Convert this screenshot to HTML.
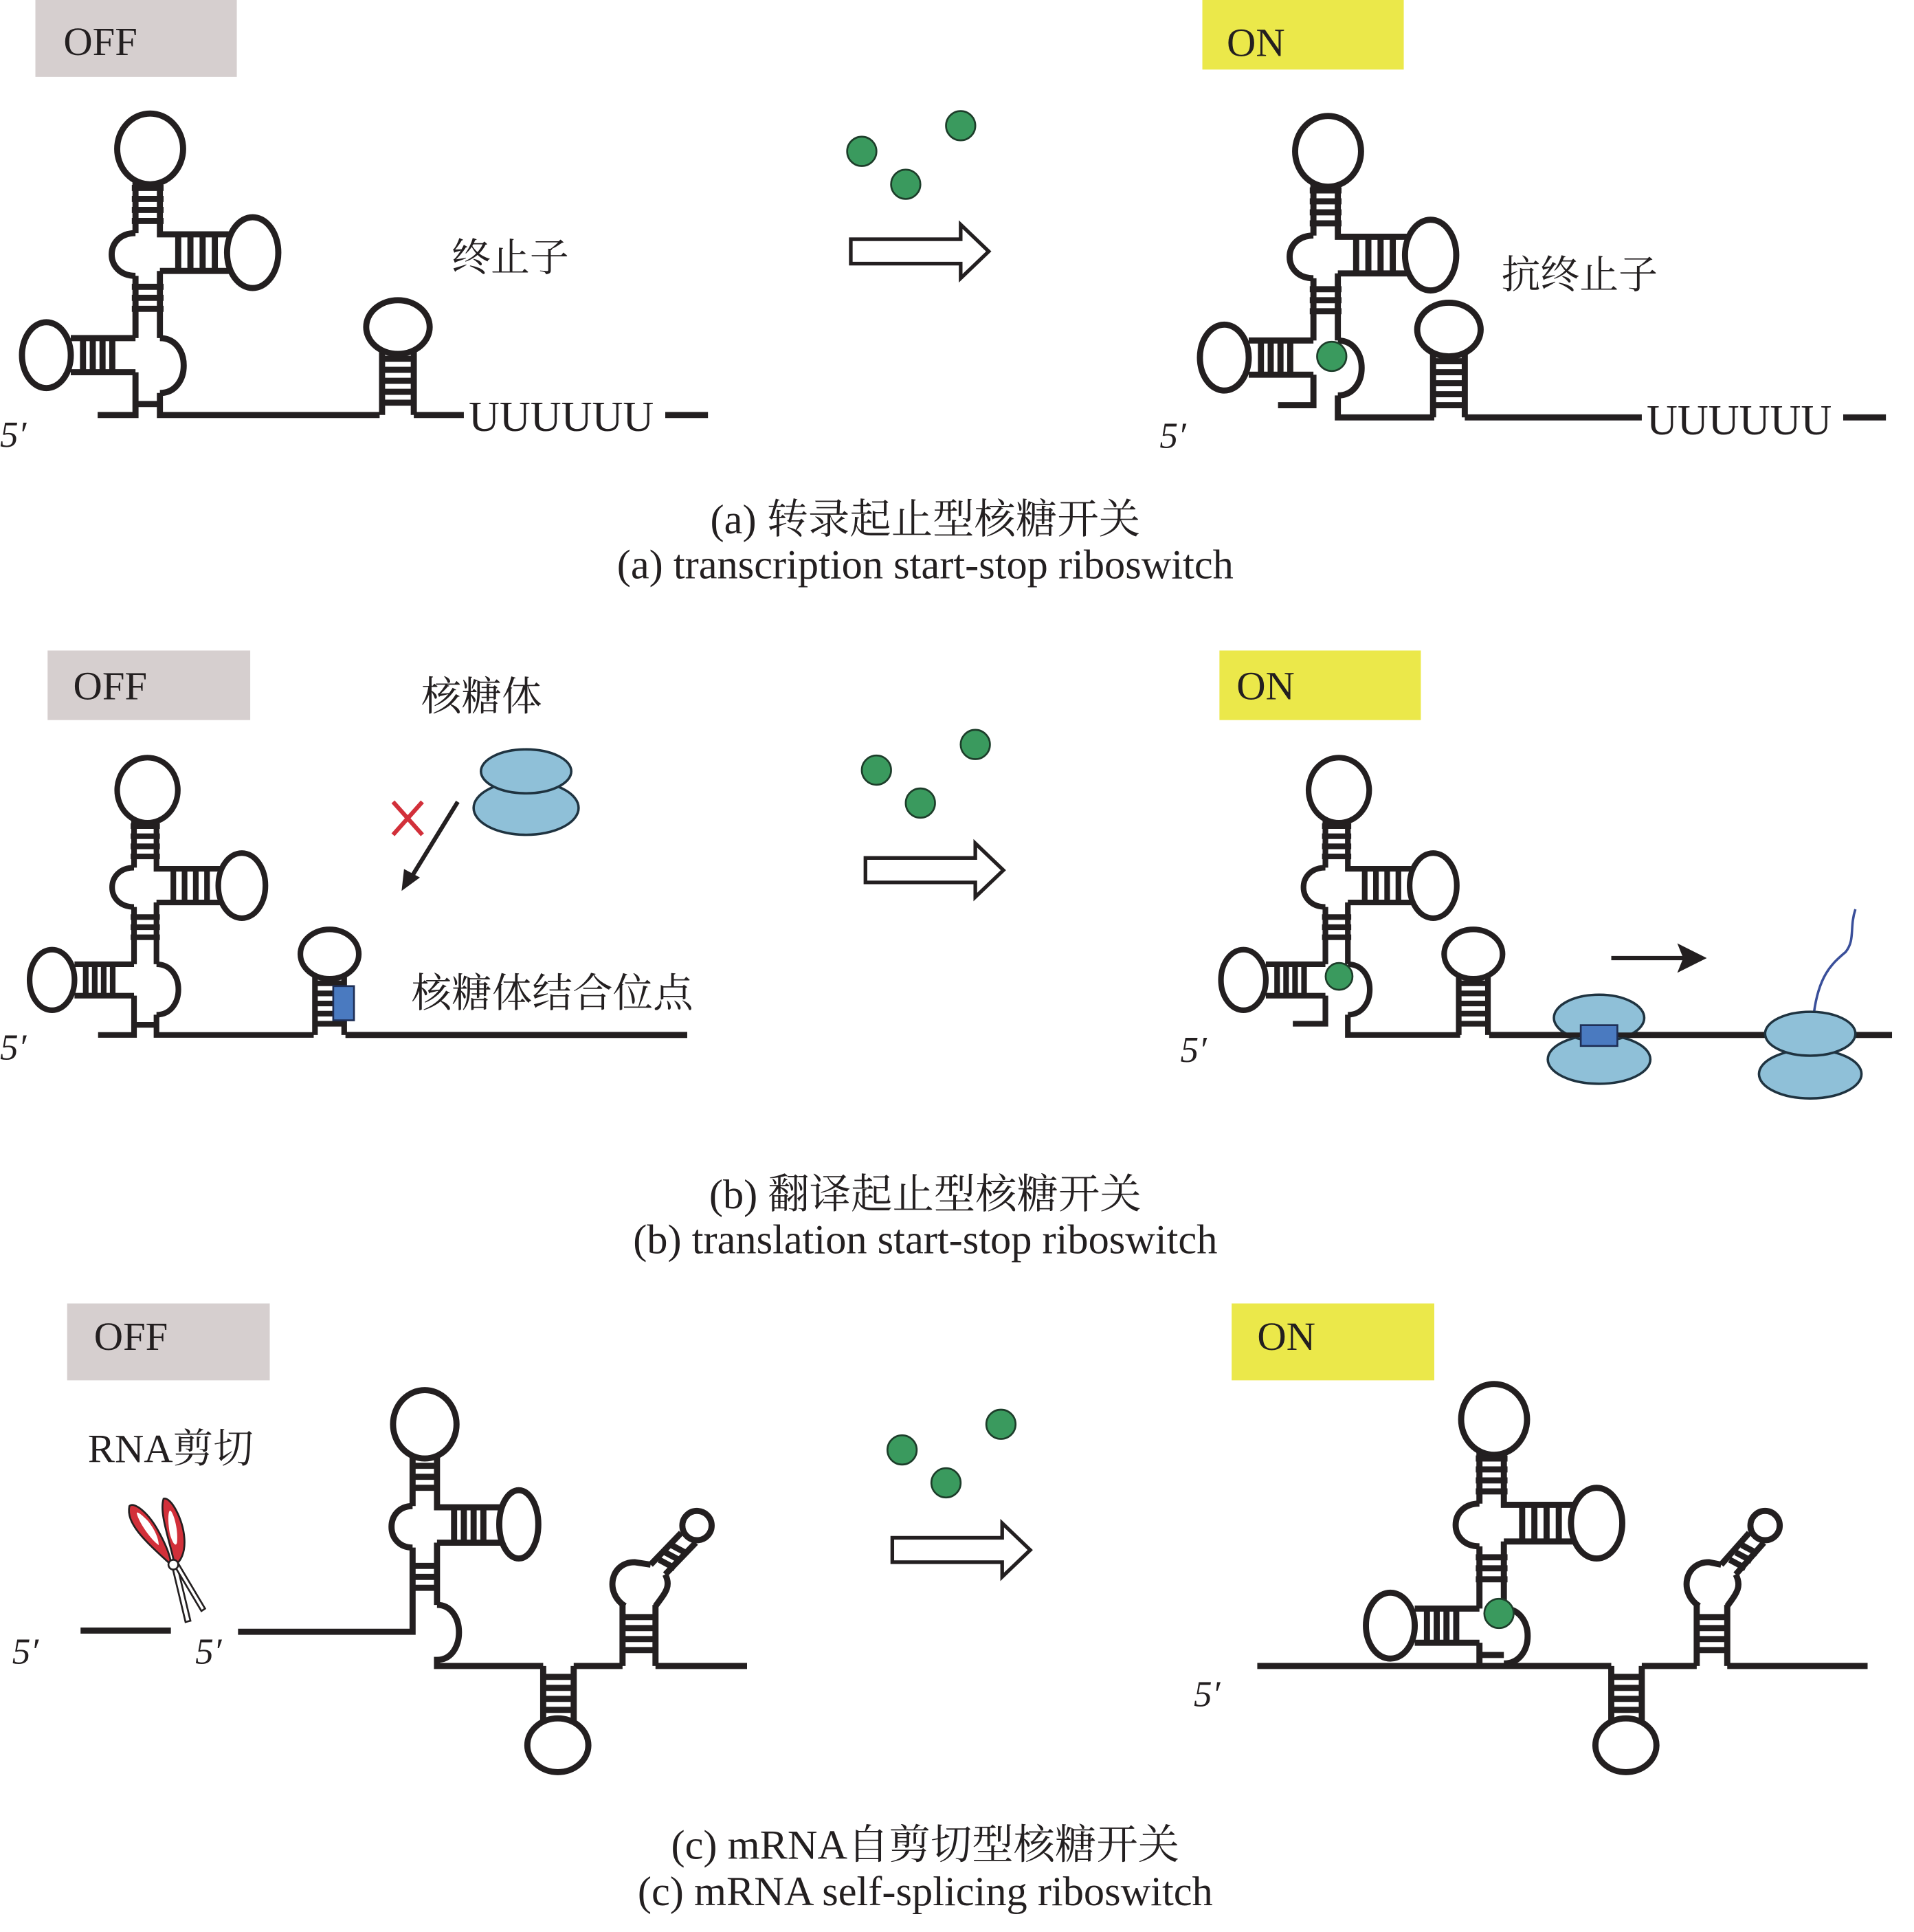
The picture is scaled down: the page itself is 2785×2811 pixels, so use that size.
<!DOCTYPE html>
<html><head><meta charset="utf-8">
<style>
html,body{margin:0;padding:0;background:#fff;}
svg{display:block;}
text{font-family:"Liberation Serif","Noto Serif CJK SC","Noto Sans CJK SC",serif;fill:#231f20;}
</style></head>
<body>
<svg width="2785" height="2811" viewBox="0 0 1568 1583" preserveAspectRatio="none" xmlns="http://www.w3.org/2000/svg">
<defs>
<g id="clover" fill="none" stroke="#231f20" stroke-width="5">
  <ellipse cx="2" cy="-218" rx="27" ry="29"/>
  <path d="M-10,-192 V-149 M10,-192 V-148 H67 M10,-118 H67 M-13,-186 H13 M-13,-177 H13 M-13,-168 H13 M-13,-159 H13"/>
  <path d="M25,-148 V-118 M35,-148 V-118 M45,-148 V-118 M55,-148 V-118"/>
  <ellipse cx="86" cy="-133" rx="21" ry="29"/>
  <path d="M-10,-149 C-36,-149 -36,-114 -10,-114"/>
  <path d="M-10,-114 V-63 M10,-118 V-63 M-13,-105 H13 M-13,-96 H13 M-13,-87 H13"/>
  <path d="M-10,-63 H-63 M-10,-35 H-63 M-53,-63 V-35 M-45,-63 V-35 M-37,-63 V-35 M-29,-63 V-35"/>
  <ellipse cx="-83" cy="-49" rx="20" ry="27"/>
  <path d="M10,-63 C36,-63 36,-18 10,-18"/>
</g>
<g id="hp" fill="none" stroke="#231f20" stroke-width="5">
  <path d="M-13,0 V-52 M13,0 V-52 M-13,-10 H13 M-13,-19 H13 M-13,-28 H13 M-13,-37 H13 M-13,-46 H13"/>
  <ellipse cx="0" cy="-72" rx="26" ry="22"/>
</g>
<g id="hollow" fill="#fff" stroke="#231f20" stroke-width="3">
  <path d="M0,-10 H90 V-22 L113,0 L90,22 V10 H0 Z"/>
</g>
<g id="dots" fill="#3a9a5e" stroke="#1d3d2a" stroke-width="1.5">
  <circle cx="0" cy="21" r="12"/><circle cx="36" cy="48" r="12"/><circle cx="81" cy="0" r="12"/>
</g>
</defs>

<!-- ===== Panel a ===== -->
<rect x="29" y="0" width="165" height="63" fill="#d6cfcf"/>
<text x="52" y="45" font-size="33">OFF</text>
<rect x="985" y="0" width="165" height="57" fill="#ebe84a"/>
<text x="1005" y="46" font-size="33">ON</text>

<use href="#clover" transform="translate(121,340)"/>
<path d="M111,305 V340 H80 M131,322 V340 H311 M111,331 H131" fill="none" stroke="#231f20" stroke-width="5"/>
<use href="#hp" transform="translate(326,340)"/>
<path d="M339,340 H380 M545,340 H580" stroke="#231f20" stroke-width="5"/>
<text x="384" y="353" font-size="35">UUUUUU</text>
<text x="0" y="366" font-size="30" font-style="italic">5′</text>
<text x="370" y="222" font-size="32">终止子</text>

<use href="#dots" transform="translate(706,103)"/>
<use href="#hollow" transform="translate(697,206)"/>

<use href="#clover" transform="translate(1086,342)"/>
<path d="M1076,307 V332 H1047 M1096,324 V342 H1175" fill="none" stroke="#231f20" stroke-width="5"/>
<circle cx="1091" cy="292" r="12" fill="#3a9a5e" stroke="#1d3d2a" stroke-width="1.5"/>
<use href="#hp" transform="translate(1187,342)"/>
<path d="M1200,342 H1345 M1510,342 H1545" stroke="#231f20" stroke-width="5"/>
<text x="1349" y="356" font-size="35">UUUUUU</text>
<text x="950" y="367" font-size="30" font-style="italic">5′</text>
<text x="1230" y="236" font-size="32">抗终止子</text>

<text x="758" y="437" font-size="34" text-anchor="middle">(a) 转录起止型核糖开关</text>
<text x="758" y="474" font-size="34" text-anchor="middle">(a) transcription start-stop riboswitch</text>

<!-- ===== Panel b ===== -->
<rect x="39" y="533" width="166" height="57" fill="#d6cfcf"/>
<text x="60" y="573" font-size="33">OFF</text>
<rect x="999" y="533" width="165" height="57" fill="#ebe84a"/>
<text x="1013" y="573" font-size="33">ON</text>

<g transform="translate(119,848) scale(0.92)"><use href="#clover"/>
<path d="M-10,-35 V0 H-42 M10,-18 V0 H150 M-10,-9 H10" fill="none" stroke="#231f20" stroke-width="5"/></g>
<g transform="translate(270,848) scale(0.92,0.92)"><use href="#hp"/></g>
<path d="M283,848 H563" stroke="#231f20" stroke-width="5"/>
<rect x="273" y="808" width="17" height="28" fill="#4a7ac0" stroke="#1e2e55" stroke-width="1.5"/>
<text x="0" y="868" font-size="30" font-style="italic">5′</text>
<text x="345" y="582" font-size="33">核糖体</text>
<text x="337" y="825" font-size="33">核糖体结合位点</text>
<ellipse cx="431" cy="662" rx="43" ry="22" fill="#8fc0d8" stroke="#1f3340" stroke-width="2"/>
<ellipse cx="431" cy="632" rx="37" ry="18" fill="#8fc0d8" stroke="#1f3340" stroke-width="2"/>
<path d="M375,657 L335,722" stroke="#231f20" stroke-width="3.5"/>
<path d="M329,730 L331,712 L344,719 Z" fill="#231f20"/>
<path d="M322,657 L346,684 M346,657 L322,684" stroke="#d2303a" stroke-width="3.5"/>

<use href="#dots" transform="translate(718,610)"/>
<use href="#hollow" transform="translate(709,713)"/>

<g transform="translate(1095,848) scale(0.92)"><use href="#clover"/>
<path d="M-10,-35 V-10 H-39 M10,-18 V0 H110" fill="none" stroke="#231f20" stroke-width="5"/></g>
<circle cx="1097" cy="800" r="11" fill="#3a9a5e" stroke="#1d3d2a" stroke-width="1.5"/>
<g transform="translate(1207,848) scale(0.92)"><use href="#hp"/></g>
<path d="M1220,848 H1550" stroke="#231f20" stroke-width="5"/>
<text x="967" y="870" font-size="30" font-style="italic">5′</text>
<path d="M1320,785 H1385" stroke="#231f20" stroke-width="3.5"/>
<path d="M1396,785 L1376,775 L1380,785 L1376,795 Z" fill="#231f20" stroke="#231f20" stroke-width="2"/>
<ellipse cx="1310" cy="868" rx="42" ry="20" fill="#8fc0d8" stroke="#1f3340" stroke-width="2"/>
<ellipse cx="1310" cy="834" rx="37" ry="19" fill="#8fc0d8" stroke="#1f3340" stroke-width="2"/>
<path d="M1268,848 H1352" stroke="#231f20" stroke-width="4"/>
<rect x="1295" y="840" width="30" height="17" fill="#4a7ac0" stroke="#1e2e55" stroke-width="1.5"/>
<path d="M1486,830 C1490,800 1500,790 1512,780 C1520,770 1515,760 1520,745" fill="none" stroke="#3a4f9a" stroke-width="2"/>
<ellipse cx="1483" cy="880" rx="42" ry="20" fill="#8fc0d8" stroke="#1f3340" stroke-width="2"/>
<ellipse cx="1483" cy="847" rx="37" ry="18" fill="#8fc0d8" stroke="#1f3340" stroke-width="2"/>

<text x="758" y="990" font-size="34" text-anchor="middle">(b) 翻译起止型核糖开关</text>
<text x="758" y="1027" font-size="34" text-anchor="middle">(b) translation start-stop riboswitch</text>

<!-- ===== Panel c ===== -->
<rect x="55" y="1068" width="166" height="63" fill="#d6cfcf"/>
<text x="77" y="1106" font-size="33">OFF</text>
<rect x="1009" y="1068" width="166" height="63" fill="#ebe84a"/>
<text x="1030" y="1106" font-size="33">ON</text>
<text x="72" y="1198" font-size="33">RNA剪切</text>

<!-- scissors -->
<g stroke="#231f20" stroke-width="1.5">
  <path d="M141,1283 L152,1329 L156,1328 L145,1282 Z" fill="#fff"/>
  <path d="M143,1283 L165,1320 L168,1318 L146,1281 Z" fill="#fff"/>
  <path d="M140,1282 C118,1262 103,1248 106,1234 C110,1230 122,1240 130,1255 C136,1266 140,1276 140,1282 Z" fill="#d2303a" stroke="#231f20"/>
  <path d="M121,1246 C115,1240 112,1238 112,1240 C114,1248 124,1262 130,1266 C130,1260 126,1252 121,1246 Z" fill="#fff" stroke="none"/>
  <path d="M143,1282 C140,1265 130,1240 134,1228 C140,1226 150,1245 151,1260 C152,1272 148,1280 143,1282 Z" fill="#d2303a" stroke="#231f20"/>
  <path d="M140,1238 C138,1236 137,1244 139,1256 C141,1264 144,1268 145,1264 C146,1254 143,1242 140,1238 Z" fill="#fff" stroke="none"/>
  <circle cx="142" cy="1282" r="4" fill="#fff"/>
</g>
<path d="M66,1336 H140" stroke="#231f20" stroke-width="5"/>
<text x="10" y="1363" font-size="30" font-style="italic">5′</text>
<text x="160" y="1363" font-size="30" font-style="italic">5′</text>

<!-- c OFF structure -->
<g fill="none" stroke="#231f20" stroke-width="5">
  <ellipse cx="348" cy="1167" rx="26" ry="28"/>
  <path d="M338,1192 V1234 M358,1192 V1235 H410 M358,1264 H410 M336,1201 H360 M336,1210 H360 M336,1219 H360"/>
  <path d="M372,1235 V1264 M380,1235 V1264 M388,1235 V1264 M396,1235 V1264"/>
  <ellipse cx="425" cy="1249" rx="16" ry="28"/>
  <path d="M338,1234 C315,1234 315,1268 338,1268"/>
  <path d="M338,1268 V1337 H195 M358,1264 V1315 M336,1283 H360 M336,1292 H360 M336,1301 H360"/>
  <path d="M358,1315 C382,1315 382,1360 358,1360 V1365 H445"/>
  <path d="M445,1365 V1410 M470,1365 V1410 M445,1374 H470 M445,1383 H470 M445,1392 H470 M445,1401 H470"/>
  <ellipse cx="457" cy="1430" rx="25" ry="22"/>
  <path d="M470,1365 H510 M510,1365 V1315 M537,1365 V1315 M510,1325 H537 M510,1334 H537 M510,1343 H537 M510,1352 H537"/>
  <path d="M512,1316 C495,1305 500,1280 520,1280 L533,1282 M537,1316 C545,1305 550,1300 545,1290 M533,1282 L558,1256 M545,1290 L570,1264"/>
  <path d="M540,1278 L553,1285 M545,1272 L558,1279 M550,1266 L563,1273"/>
  <circle cx="571" cy="1250" r="12"/>
  <path d="M537,1365 H612"/>
</g>

<use href="#dots" transform="translate(739,1167)"/>
<use href="#hollow" transform="translate(731,1270)"/>

<!-- c ON -->
<use href="#clover" transform="translate(1222,1381)"/>
<g fill="none" stroke="#231f20" stroke-width="5">
  <path d="M1212,1346 V1365 M1232,1363 V1365 M1212,1356 H1232 M1030,1365 H1320"/>
  <path d="M1320,1365 V1410 M1345,1365 V1410 M1320,1374 H1345 M1320,1383 H1345 M1320,1392 H1345 M1320,1401 H1345"/>
  <ellipse cx="1332" cy="1430" rx="25" ry="22"/>
  <path d="M1345,1365 H1390 M1390,1365 V1315 M1415,1365 V1315 M1390,1325 H1415 M1390,1334 H1415 M1390,1343 H1415 M1390,1352 H1415"/>
  <path d="M1392,1316 C1375,1305 1380,1280 1400,1280 L1410,1282 M1415,1316 C1423,1305 1427,1300 1422,1290 M1410,1282 L1433,1256 M1422,1290 L1445,1264"/>
  <path d="M1417,1278 L1430,1285 M1422,1272 L1435,1279 M1427,1266 L1440,1273"/>
  <circle cx="1446" cy="1250" r="12"/>
  <path d="M1415,1365 H1530"/>
</g>
<circle cx="1228" cy="1322" r="12" fill="#3a9a5e" stroke="#1d3d2a" stroke-width="1.5"/>
<text x="978" y="1398" font-size="30" font-style="italic">5′</text>

<text x="758" y="1523" font-size="34" text-anchor="middle">(c) mRNA自剪切型核糖开关</text>
<text x="758" y="1561" font-size="34" text-anchor="middle">(c) mRNA self-splicing riboswitch</text>
</svg>
</body></html>
